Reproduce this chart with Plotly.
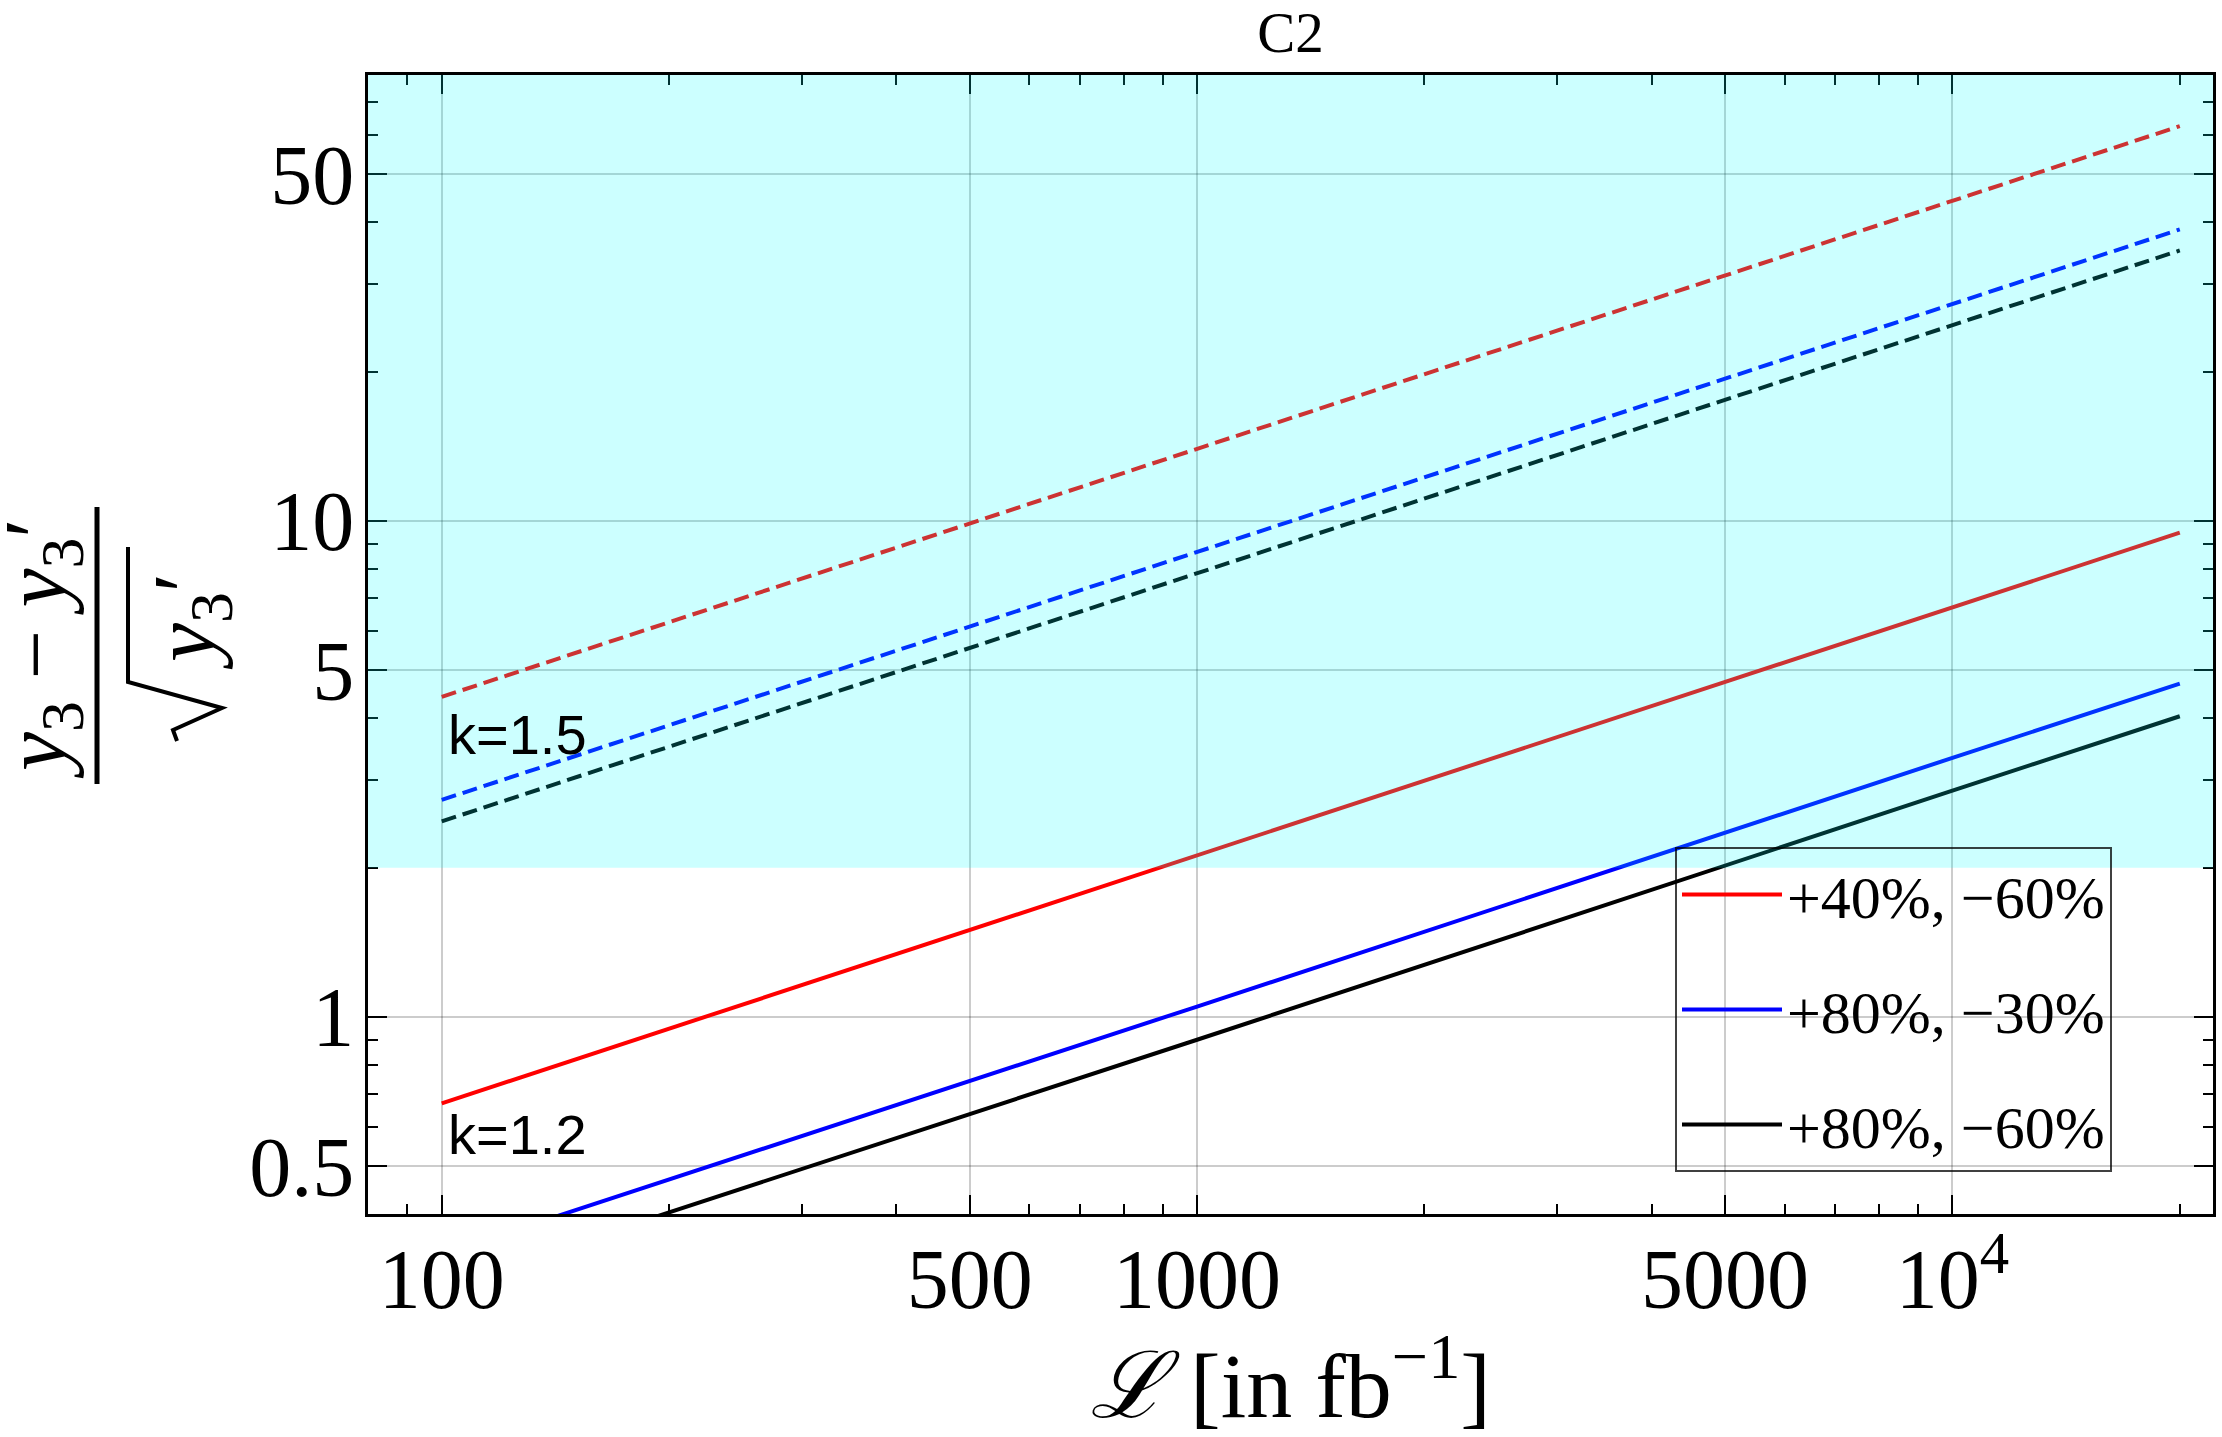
import numpy as np
import plotly.graph_objects as go

# integrated luminosity [fb^-1]
lumi = [100, 1000, 10000, 20000]

# significance (y3 - y3')/sqrt(y3')
# solid: k = 1.2, dashed: k = 1.5
sig_40_60_k12 = [0.67, 2.12, 6.70, 9.47]
sig_80_30_k12 = [0.333, 1.05, 3.33, 4.70]
sig_80_60_k12 = [0.286, 0.90, 2.86, 4.04]
sig_40_60_k15 = [4.42, 14.0, 44.2, 62.5]
sig_80_30_k15 = [2.74, 8.66, 27.4, 38.7]
sig_80_60_k15 = [2.48, 7.84, 24.8, 35.1]

pol_labels = ["+40%, −60%", "+80%, −30%", "+80%, −60%"]
colors = ["#ff0000", "#0000ff", "#000000"]

x_ticks = [100, 500, 1000, 5000, 10000]
x_ticktext = ["100", "500", "1000", "5000", "10<sup>4</sup>"]
y_ticks = [0.5, 1, 5, 10, 50]
y_ticktext = ["0.5", "1", "5", "10", "50"]

threshold = 2  # shaded above this

X_RANGE = [1.9024, 4.345]
Y_RANGE = [-0.397, 1.899]

W, H = 2222, 1437
ML, MR, MT, MB = 368, 9, 75, 223
PW, PH = W - ML - MR, H - MT - MB


def px(x):
    return (x - ML) / PW


def py(y):
    return (MT + PH - y) / PH


serif = "Liberation Serif"

fig = go.Figure()

solid = [sig_40_60_k12, sig_80_30_k12, sig_80_60_k12]
dashed = [sig_40_60_k15, sig_80_30_k15, sig_80_60_k15]

for i in range(3):
    fig.add_trace(go.Scatter(x=lumi, y=solid[i], mode="lines", name=pol_labels[i],
                             legendgroup=str(i),
                             line=dict(color=colors[i], width=4)))
for i in range(3):
    fig.add_trace(go.Scatter(x=lumi, y=dashed[i], mode="lines", showlegend=False,
                             line=dict(color=colors[i], width=4, dash="15px,7px")))

# shaded region above threshold
fig.add_shape(type="rect", xref="x", yref="y",
              x0=10 ** X_RANGE[0], x1=10 ** X_RANGE[1],
              y0=threshold, y1=10 ** Y_RANGE[1],
              fillcolor="rgba(0,255,255,0.2)", line=dict(width=0), layer="above")

axis_common = dict(
    type="log", showline=True, linecolor="black", linewidth=3, mirror="ticks",
    ticks="inside", ticklen=19, tickwidth=2, tickcolor="black",
    showgrid=True, gridcolor="rgba(0,0,0,0.2)", gridwidth=2, zeroline=False,
    automargin=False,
    tickfont=dict(family=serif, size=84, color="black"),
    minor=dict(ticks="inside", ticklen=10, tickwidth=2, tickcolor="black",
               dtick="D1", showgrid=False),
)

fig.update_xaxes(axis_common, range=X_RANGE, tickmode="array",
                 tickvals=x_ticks, ticktext=x_ticktext, ticklabelstandoff=-10,
                 title=dict(text="<i>ℒ</i> [in fb<sup>−1</sup>]",
                            font=dict(family=serif, size=92, color="black"),
                            standoff=32))
fig.update_yaxes(axis_common, range=Y_RANGE, tickmode="array",
                 tickvals=y_ticks, ticktext=y_ticktext, ticklabelstandoff=-6)

# y axis label drawn as a fraction
label_font = dict(family=serif, size=88, color="black")
fig.add_annotation(xref="paper", yref="paper", x=px(42), y=py(649),
                   text="<i>y</i><sub>3</sub> − <i>y</i><sub>3</sub>′",
                   textangle=-90, showarrow=False, font=label_font,
                   xanchor="center", yanchor="middle")
fig.add_annotation(xref="paper", yref="paper", x=px(190), y=py(622),
                   text="<i>y</i><sub>3</sub>′",
                   textangle=-90, showarrow=False, font=label_font,
                   xanchor="center", yanchor="middle")
fig.add_shape(type="line", xref="paper", yref="paper",
              x0=px(97), x1=px(97), y0=py(784), y1=py(507),
              line=dict(color="black", width=5))
rad = [(128, 547), (128, 682), (222, 708), (173, 730), (177, 741)]
path = "M " + " L ".join(f"{px(a):.5f},{py(b):.5f}" for a, b in rad)
fig.add_shape(type="path", xref="paper", yref="paper", path=path,
              line=dict(color="black", width=4))

# k labels
k_font = dict(family="Liberation Sans", size=56, color="black")
fig.add_annotation(x=np.log10(100), y=np.log10(3.72), text="k=1.5", showarrow=False,
                   xanchor="left", yanchor="middle", xshift=4, font=k_font)
fig.add_annotation(x=np.log10(100), y=np.log10(0.581), text="k=1.2", showarrow=False,
                   xanchor="left", yanchor="middle", xshift=4, font=k_font)

fig.update_layout(
    width=W, height=H,
    margin=dict(l=ML, r=MR, t=MT, b=MB, autoexpand=False),
    paper_bgcolor="white", plot_bgcolor="white",
    title=dict(text="C2", x=0.5, xref="paper", y=1 - 32 / H, yref="container",
               xanchor="center", yanchor="middle",
               font=dict(family=serif, size=57, color="black")),
    legend=dict(x=px(1675), y=py(847), xanchor="left", yanchor="top",
                bgcolor="rgba(255,255,255,0)", bordercolor="rgba(0,0,0,0.75)",
                borderwidth=2, tracegroupgap=34, itemwidth=100,
                font=dict(family=serif, size=60, color="black")),
    showlegend=True,
)

fig.write_html("out.html", config={"displayModeBar": False},
               post_script="document.body.style.margin='0';")
